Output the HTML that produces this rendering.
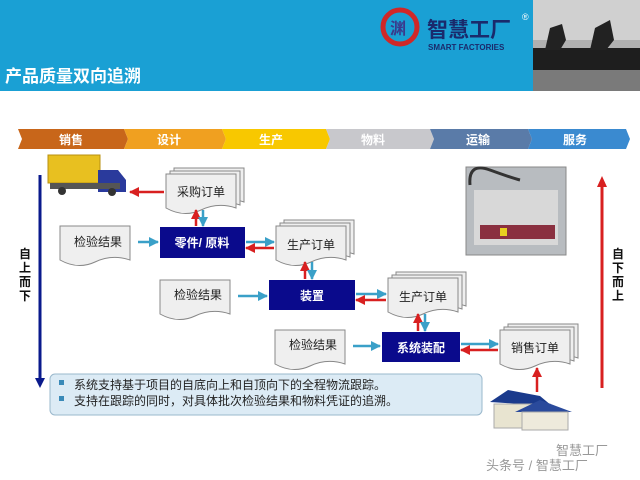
<!DOCTYPE html>
<html><head><meta charset="utf-8"><style>
html,body{margin:0;padding:0;background:#fff;}
svg{display:block;font-family:"Liberation Sans","Noto Sans CJK SC",sans-serif;}
</style></head><body>
<svg width="640" height="480" viewBox="0 0 640 480" xmlns="http://www.w3.org/2000/svg">
<defs>
<marker id="ab" viewBox="0 0 10 10" refX="9" refY="5" markerWidth="4" markerHeight="4" orient="auto"><path d="M0,0L10,5L0,10z" fill="#3aa0c8"/></marker>
<marker id="ar" viewBox="0 0 10 10" refX="9" refY="5" markerWidth="4" markerHeight="4" orient="auto"><path d="M0,0L10,5L0,10z" fill="#d82020"/></marker>
<g id="doc"><path d="M0,0H70V34Q52,28 35,36T0,34Z" fill="#efefef" stroke="#888" stroke-width="1"/></g>
<g id="stack"><use href="#doc" x="8" y="-6"/><use href="#doc" x="4" y="-3"/><use href="#doc"/></g>
</defs>
<!-- header -->
<rect x="0" y="0" width="640" height="91" fill="#1aa0d4"/>
<rect x="533" y="0" width="107" height="91" fill="#b0b0b0"/>
<rect x="533" y="0" width="107" height="40" fill="#d0d0d0"/>
<rect x="533" y="48" width="107" height="22" fill="#1e1e1e"/>
<rect x="533" y="70" width="107" height="21" fill="#7a7a7a"/>
<path d="M545,50L550,28L562,24L566,40L560,50Z M590,50L595,28L610,20L614,40L606,50Z" fill="#222"/>
<circle cx="400" cy="27" r="17" fill="none" stroke="#d02828" stroke-width="5"/>
<text x="390" y="34" font-size="16" fill="#3a3a8c" font-weight="bold">渊</text>
<text x="427" y="37" font-size="21" fill="#1a2a6c" font-weight="bold">智慧工厂</text>
<text x="522" y="20" font-size="9" fill="#fff">®</text>
<text x="428" y="50" font-size="8" fill="#1a2a6c" font-weight="bold">SMART FACTORIES</text>
<text x="5" y="82" font-size="17" fill="#fff" font-weight="bold">产品质量双向追溯</text>
<!-- process band -->
<path d="M18,129H124L128,139L124,149H18L22,139Z" fill="#c8661a"/>
<path d="M124,129H222L226,139L222,149H124L128,139Z" fill="#f0a020"/>
<path d="M222,129H326L330,139L326,149H222L226,139Z" fill="#f8c800"/>
<path d="M326,129H430L434,139L430,149H326L330,139Z" fill="#c8c8cc"/>
<path d="M430,129H528L532,139L528,149H430L434,139Z" fill="#5a7ba8"/>
<path d="M528,129H626L630,139L626,149H528L532,139Z" fill="#3a8ad0"/>
<g font-size="12" fill="#fff" font-weight="bold" text-anchor="middle">
<text x="71" y="144">销售</text><text x="169" y="144">设计</text><text x="271" y="144">生产</text>
<text x="373" y="144">物料</text><text x="478" y="144">运输</text><text x="575" y="144">服务</text></g>
<!-- side arrows -->
<line x1="40" y1="175" x2="40" y2="380" stroke="#0a1a8c" stroke-width="3"/>
<path d="M35,378H45L40,388Z" fill="#0a1a8c"/>
<g font-size="12" font-weight="bold" fill="#111" text-anchor="middle">
<text x="25" y="258">自</text><text x="25" y="272">上</text><text x="25" y="286">而</text><text x="25" y="300">下</text>
<text x="618" y="258">自</text><text x="618" y="272">下</text><text x="618" y="286">而</text><text x="618" y="300">上</text></g>
<line x1="602" y1="186" x2="602" y2="388" stroke="#d82020" stroke-width="3"/>
<path d="M597,187H607L602,176Z" fill="#d82020"/>
<!-- truck -->
<rect x="48" y="155" width="52" height="28" fill="#e8c020" stroke="#b89010"/>
<path d="M98,170H118L126,180V192H98Z" fill="#2a3a9c"/>
<rect x="50" y="183" width="70" height="6" fill="#555"/>
<circle cx="62" cy="191" r="4" fill="#333"/><circle cx="112" cy="192" r="4" fill="#333"/>
<!-- machine -->
<rect x="466" y="167" width="100" height="88" fill="#b8bcc0" stroke="#888"/>
<rect x="474" y="190" width="84" height="55" fill="#d8d8d8"/>
<rect x="480" y="225" width="75" height="14" fill="#8a3040"/>
<rect x="500" y="228" width="7" height="8" fill="#e8d020"/>
<path d="M470,185Q468,162 490,170T520,180" fill="none" stroke="#333" stroke-width="3"/>
<!-- docs -->
<use href="#stack" x="166" y="174"/>
<use href="#doc" x="60" y="226"/>
<use href="#stack" x="276" y="226"/>
<use href="#doc" x="160" y="280"/>
<use href="#stack" x="388" y="278"/>
<use href="#doc" x="275" y="330"/>
<use href="#stack" x="500" y="330"/>
<g font-size="12" fill="#222" text-anchor="middle">
<text x="201" y="196">采购订单</text>
<text x="98" y="246">检验结果</text>
<text x="311" y="249">生产订单</text>
<text x="198" y="299">检验结果</text>
<text x="423" y="301">生产订单</text>
<text x="313" y="349">检验结果</text>
<text x="535" y="352">销售订单</text></g>
<!-- blue boxes -->
<rect x="160" y="227" width="85" height="31" fill="#0a0a8c"/>
<rect x="269" y="280" width="86" height="30" fill="#0a0a8c"/>
<rect x="382" y="332" width="78" height="30" fill="#0a0a8c"/>
<g font-size="12" fill="#fff" text-anchor="middle" font-weight="bold">
<text x="202" y="247">零件/ 原料</text><text x="312" y="300">装置</text><text x="421" y="352">系统装配</text></g>
<!-- arrows -->
<g stroke-width="2.5" fill="none">
<line x1="164" y1="192" x2="130" y2="192" stroke="#d82020" marker-end="url(#ar)"/>
<line x1="196" y1="226" x2="196" y2="210" stroke="#d82020" marker-end="url(#ar)"/>
<line x1="203" y1="210" x2="203" y2="226" stroke="#3aa0c8" marker-end="url(#ab)"/>
<line x1="138" y1="242" x2="158" y2="242" stroke="#3aa0c8" marker-end="url(#ab)"/>
<line x1="246" y1="242" x2="274" y2="242" stroke="#3aa0c8" marker-end="url(#ab)"/>
<line x1="274" y1="248" x2="246" y2="248" stroke="#d82020" marker-end="url(#ar)"/>
<line x1="305" y1="279" x2="305" y2="262" stroke="#d82020" marker-end="url(#ar)"/>
<line x1="312" y1="262" x2="312" y2="279" stroke="#3aa0c8" marker-end="url(#ab)"/>
<line x1="238" y1="296" x2="267" y2="296" stroke="#3aa0c8" marker-end="url(#ab)"/>
<line x1="356" y1="294" x2="386" y2="294" stroke="#3aa0c8" marker-end="url(#ab)"/>
<line x1="386" y1="300" x2="356" y2="300" stroke="#d82020" marker-end="url(#ar)"/>
<line x1="418" y1="331" x2="418" y2="314" stroke="#d82020" marker-end="url(#ar)"/>
<line x1="425" y1="314" x2="425" y2="331" stroke="#3aa0c8" marker-end="url(#ab)"/>
<line x1="353" y1="346" x2="380" y2="346" stroke="#3aa0c8" marker-end="url(#ab)"/>
<line x1="461" y1="344" x2="498" y2="344" stroke="#3aa0c8" marker-end="url(#ab)"/>
<line x1="498" y1="350" x2="461" y2="350" stroke="#d82020" marker-end="url(#ar)"/>
<line x1="537" y1="392" x2="537" y2="368" stroke="#d82020" marker-end="url(#ar)"/>
</g>
<!-- note -->
<rect x="50" y="374" width="432" height="41" rx="5" fill="#dcebf5" stroke="#9ab8cc"/>
<rect x="59" y="380" width="5" height="5" fill="#3a8ab8"/><rect x="59" y="396" width="5" height="5" fill="#3a8ab8"/>
<g font-size="12" fill="#222"><text x="74" y="389">系统支持基于项目的自底向上和自顶向下的全程物流跟踪。</text>
<text x="74" y="405">支持在跟踪的同时，对具体批次检验结果和物料凭证的追溯。</text></g>
<!-- house -->
<path d="M490,402L508,390L540,396L552,406Z" fill="#1a3a8c"/>
<rect x="494" y="404" width="56" height="24" fill="#e8e4d0" stroke="#aaa"/>
<path d="M515,412L540,400L572,412Z" fill="#2a4a9c"/>
<rect x="522" y="412" width="46" height="18" fill="#eeeadc" stroke="#aaa"/>
<!-- watermark -->
<g fill="#999" font-size="13"><text x="556" y="455">智慧工厂</text><text x="486" y="470">头条号 / 智慧工厂</text></g>
</svg>
</body></html>
